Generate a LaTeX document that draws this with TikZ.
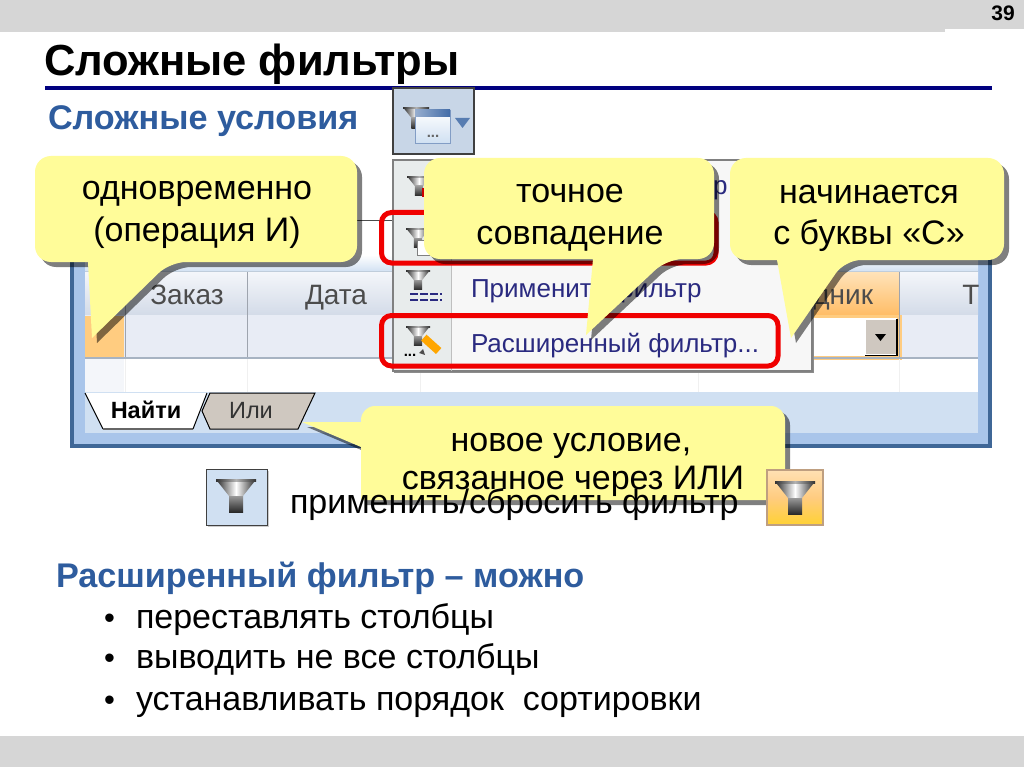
\documentclass[tikz,border=0pt]{standalone}
\usepackage{fontspec}
\setmainfont{Liberation Sans}
\definecolor{barg}{HTML}{D6D6D6}
\definecolor{navy}{HTML}{00007F}
\definecolor{headb}{HTML}{2E5C9E}
\definecolor{noteY}{HTML}{FFFC99}
\definecolor{framed}{HTML}{3F6797}
\definecolor{framel}{HTML}{A9C5EA}
\definecolor{barb}{HTML}{D0E0F2}
\definecolor{rowb}{HTML}{E8ECF5}
\definecolor{hdt}{HTML}{F4F6FA}
\definecolor{hdb}{HTML}{D3DBE8}
\definecolor{orL}{HTML}{FFCC80}
\definecolor{menuT}{HTML}{2A2A80}
\definecolor{iconc}{HTML}{E8ECEC}
\definecolor{redr}{HTML}{F00000}
\definecolor{tabg}{HTML}{CFC8C0}
\tikzset{
 every node/.style={inner sep=0pt,outer sep=0pt},
 txt/.style={anchor=base,align=center,font=\fontsize{34}{40}\selectfont},
 ltxt/.style={anchor=base west,font=\fontsize{34}{40}\selectfont},
 headtxt/.style={anchor=base west,font=\fontsize{34.2}{40}\selectfont\bfseries,text=headb},
 menutxt/.style={anchor=base west,font=\fontsize{26}{30}\selectfont,text=menuT},
 coltxt/.style={anchor=base,font=\fontsize{28}{32}\selectfont,text=black!70},
 funnel/.pic={
  \shade[left color=black!85,right color=black!85,middle color=white] (-20,-16.5)--(20,-16.5)--(7,0)--(-7,0)--cycle;
  \shade[top color=white!60!black,bottom color=black!85] (-7,0)--(7,0)--(7,16.5)--(-7,16.5)--cycle;
  \shade[left color=black!80,right color=black!80,middle color=black!30] (-20,-16.5) rectangle (20,-14.5);
 },
 redbox/.style={draw=redr,line width=5pt,rounded corners=10pt},
}
\newcommand{\callout}[1]{\fill[black,opacity=.5,shift={(5,5)}] #1; \fill[noteY] #1;}
\begin{document}
\begin{tikzpicture}[x=1pt,y=-1pt]
\useasboundingbox (0,0) rectangle (1024,767);
\fill[white] (0,0) rectangle (1024,767);
% bars
\fill[barg] (0,0) rectangle (945,32);
\fill[barg] (945,0) rectangle (1024,29);
\fill[barg] (0,736) rectangle (1024,767);
\node[anchor=base,font=\fontsize{21}{24}\selectfont\bfseries] (num) at (1003,21) {39};
\node[anchor=base west,font=\fontsize{43.5}{48}\selectfont\bfseries] (title) at (44,76) {Сложные фильтры};
\fill[navy] (45,86) rectangle (992,90);
\node[headtxt] (sub) at (48,130) {Сложные условия};
% top button
\draw[black!75,fill=barb!90!gray,line width=1.2pt] (393,88) rectangle (474,154);
\pic[scale=.65] at (416,118) {funnel};
\shade[draw=headb!60,top color=white,bottom color=barb] (415,110) rectangle (450,143);
\shade[left color=headb!50,right color=headb!90] (415,110) rectangle (450,117);
\node[anchor=base,font=\fontsize{15}{15}\selectfont\bfseries,text=black!60] (dots) at (433,138) {...};
\fill[headb!80] (455,118) -- (470,118) -- (462.5,128) -- cycle;
% window
\fill[framel] (70,220) rectangle (992,448);
\draw[framed,line width=4pt] (72,220) -- (72,446) -- (990,446) -- (990,220);
\fill[white] (85,220) rectangle (978,433);
\draw[black!70,line width=1pt] (85,220.5) -- (978,220.5);
\shade[top color=white,bottom color=barb] (85,255) rectangle (978,272);
\shade[top color=hdt,bottom color=hdb] (85,272) rectangle (978,315);
\draw[barb!80!gray,line width=1pt] (85,271.5) -- (978,271.5);
\fill[rowb] (85,315) rectangle (978,358);
\fill[barb] (85,392) rectangle (978,433);
\fill[rowb!50!white] (85,358) rectangle (124,392);
\fill[orL] (85,316) rectangle (124,357);
\shade[top color=orL!55!white,bottom color=orL!80!orange] (790,272) rectangle (899,315);
\fill[orL] (790,315) rectangle (902,360);
\fill[white] (790,318) rectangle (897,356);
\fill[tabg] (866,320) rectangle (896,354);
\draw[black,line width=1.2pt] (865,355.5) -- (897,355.5) -- (897,319);
\fill[black] (875,334) -- (886,334) -- (880.5,341) -- cycle;
\foreach \cx in {125,247,899}{\draw[black!25!hdb,line width=1pt] (\cx,272) -- (\cx,358);}
\foreach \cx in {125,247,420,698,899}{\draw[black!6,line width=1pt] (\cx,358) -- (\cx,392);}
\draw[barb!80!black,line width=1.5pt] (85,358) -- (978,358);
\node[coltxt] (c1) at (187,304) {Заказ};
\node[coltxt] (c2) at (336,304) {Дата};
\node[coltxt,anchor=base east] (c3) at (873,304) {дник};
\node[coltxt] (c4) at (971,304) {Т};
% tabs
\fill[white] (85,393) -- (103,429) -- (193,429) -- (207,393) -- cycle;
\draw[black,line width=1pt] (85,393) -- (103,429);
\draw[black!60,line width=1.5pt] (103,429) -- (193,429);
\draw[black,line width=1pt] (193,429) -- (207,393);
\draw[black,fill=tabg,line width=1pt] (210,393) -- (315,393) -- (298,429) -- (210,429) -- (202,411) -- cycle;
\node[anchor=base,font=\fontsize{23.5}{26}\selectfont\bfseries] (t1) at (146,418) {Найти};
\node[anchor=base,font=\fontsize{23.5}{26}\selectfont,text=black!80] (t2) at (251,418) {Или};
% menu
\fill[black!45] (394,161) rectangle (814,373);
\fill[white!97!black] (393,160) rectangle (812,371);
\fill[iconc] (393,160) rectangle (451,371);
\draw[black!50,line width=1.5pt] (393,160) rectangle (812,371);
\draw[black!25] (451,160) -- (451,371);
\pic[scale=.6] at (419,186) {funnel};
\fill[red!80!black] (422,188) rectangle (428,197);
\pic[scale=.6] at (418,238) {funnel};
\fill[white,draw=black!50] (417,240) rectangle (431,255);
\pic[scale=.6] at (418,280) {funnel};
\draw[menuT,line width=2pt,dash pattern=on 8pt off 2pt] (410,294) -- (442,294) (410,300) -- (442,300);
\pic[scale=.6] at (418,336) {funnel};
\fill[orange!70!yellow,rotate around={-42:(432,345)}] (421,341) rectangle (441,349);
\fill[black!70] (419,353) -- (423,349) -- (425,355) -- cycle;
\node[anchor=base,font=\fontsize{15}{15}\selectfont\bfseries] (idots) at (410,356) {...};
\node[menutxt] (m0) at (713,195) {р};
\node[menutxt] (m1) at (471,297) {Применить фильтр};
\node[menutxt] (m2) at (471,352) {Расширенный фильтр...};
\draw[redbox] (381.5,212.5) rectangle (716,263);
\draw[redbox] (381.5,315.5) rectangle (778,366);
% callouts
\callout{[rounded corners=16pt] (35,156) -- (357,156) -- (357,262) -- (170,262) [sharp corners] -- (92,338) -- (88,262) [rounded corners=16pt] -- (35,262) -- cycle}
\callout{[rounded corners=16pt] (424,158) -- (714,158) -- (714,259) -- (667,259) [sharp corners] -- (586,335) -- (593,259) [rounded corners=16pt] -- (424,259) -- cycle}
\callout{[rounded corners=16pt] (730,158) -- (1004,158) -- (1004,260) -- (845,260) [sharp corners] -- (791,338) -- (777,260) [rounded corners=16pt] -- (730,260) -- cycle}
\callout{[rounded corners=14pt] (361,406) -- (785,406) -- (785,500) [sharp corners] -- (361,500) -- (361,447) -- (302,422) -- (361,422) [rounded corners=14pt] -- cycle}
\node[txt] (n1) at (197,200) {одновременно};
\node[txt] (n1b) at (197,241) {(операция И)};
\node[txt] (n2) at (570,203) {точное};
\node[txt] (n2b) at (570,244) {совпадение};
\node[txt] (n3) at (869,204) {начинается};
\node[txt] (n3b) at (869,244) {с буквы «С»};
\node[txt] (n4) at (571,451) {новое условие,};
\node[txt] (n4b) at (573,489) {связанное через ИЛИ};
% filter buttons
\fill[black!20] (208,471) rectangle (269,527);
\draw[black!75,fill=barb,line width=1pt] (206,469) rectangle (267,525);
\pic at (236,496) {funnel};
\shade[top color=orL!60!white,bottom color=orange!45!yellow!80!white,middle color=orL] (767,470) rectangle (823,525);
\draw[orange!50!black!50,line width=1.5pt] (767,470) rectangle (823,525);
\pic at (795,498) {funnel};
\node[ltxt] (appl) at (290,513) {применить/сбросить фильтр};
% bottom
\node[headtxt] (h2) at (56,587) {Расширенный фильтр – можно};
\foreach \nm/\yy/\tx in {b1/628/переставлять столбцы,b2/668/выводить не все столбцы,b3/710/устанавливать порядок\ \ сортировки}{
 \node[ltxt] (\nm) at (136,\yy) {\tx};
 \node[ltxt,font=\fontsize{31}{36}\selectfont] (\nm d) at (104,\yy) {•};
}
\end{tikzpicture}
\end{document}
